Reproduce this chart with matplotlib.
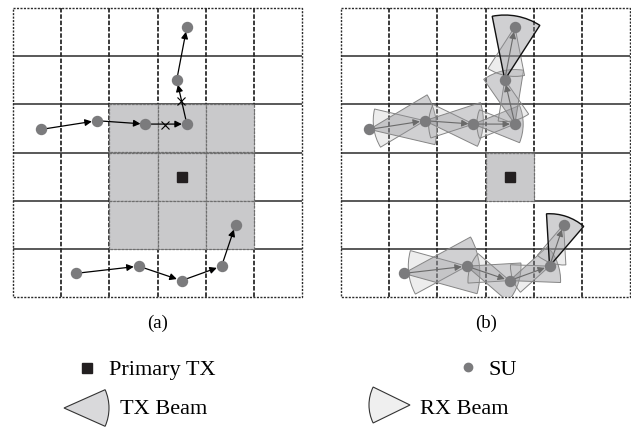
import numpy as np
import matplotlib
matplotlib.use("Agg")
import matplotlib.pyplot as plt
from matplotlib.patches import Wedge, Rectangle

plt.rcParams['font.family'] = ['Liberation Serif', 'DejaVu Serif']

# --- data (grid cell units, y measured downward from top edge) ---
n_cells = 6
primary_tx = (3.5, 3.5)
gray_cells_a = [(c, r) for c in (2, 3, 4) for r in (2, 3, 4)]
gray_cells_b = [(3, 3)]

path1_x = [0.59, 1.74, 2.75, 3.61, 3.40, 3.61]
path1_y = [2.52, 2.34, 2.41, 2.41, 1.49, 0.39]
path2_x = [1.30, 2.61, 3.50, 4.33, 4.62]
path2_y = [5.51, 5.36, 5.66, 5.36, 4.50]

cross_x = [3.16, 3.49]
cross_y = [2.43, 1.93]

panel_labels = ["(a)", "(b)"]
legend_labels = ["Primary TX", "SU", "TX Beam", "RX Beam"]

# --- styles ---
SU_COLOR = '#7b7b7d'
GRID_COLOR = '#2b2b2b'
SHADE = '#c9c9cb'
TX_FACE = (0.56, 0.56, 0.58, 0.42)
RX_FACE = (0.72, 0.72, 0.72, 0.25)
BEAM_EDGE = '#858585'
HALF = 22  # beam half width, degrees

W, H = 631, 428
fig = plt.figure(figsize=(W / 100, H / 100), dpi=100)


def make_panel(left_px, cells):
    ax = fig.add_axes([left_px / W, 1 - 297 / H, 289 / W, 289 / H])
    ax.set_xlim(0, n_cells)
    ax.set_ylim(n_cells, 0)
    ax.axis('off')
    inner = range(1, n_cells)
    ax.hlines(list(inner), 0, n_cells, colors=GRID_COLOR, lw=1.1, zorder=1)
    ax.vlines(list(inner), 0, n_cells, colors=GRID_COLOR, lw=1.3,
              linestyles=(0, (2.5, 1)), zorder=1)
    ax.add_patch(Rectangle((0, 0), n_cells, n_cells, fill=False, ec=GRID_COLOR,
                           lw=1.0, ls=(0, (1.5, 1)), zorder=1, clip_on=False))
    for c, r in cells:
        ax.add_patch(Rectangle((c, r), 1, 1, fc=SHADE, ec='#6e6e6e', lw=0.9,
                               ls=(0, (2, 1)), zorder=2))
    ax.plot(*primary_tx, marker='s', ms=7.2, color='#231f20', zorder=6)
    return ax


def arrows(ax, xs, ys, color, lw):
    for i in range(len(xs) - 1):
        ax.annotate('', xy=(xs[i + 1], ys[i + 1]), xytext=(xs[i], ys[i]),
                    arrowprops=dict(arrowstyle='-|>', color=color, lw=lw,
                                    mutation_scale=10, shrinkA=3, shrinkB=3.6),
                    zorder=5)


def beams(ax, xs, ys):
    for i in range(len(xs) - 1):
        ax_, ay = xs[i], ys[i]
        bx, by = xs[i + 1], ys[i + 1]
        d = np.hypot(bx - ax_, by - ay)
        th = np.degrees(np.arctan2(by - ay, bx - ax_))
        last = i == len(xs) - 2
        ax.add_patch(Wedge((bx, by), 0.92 * d, th + 180 - HALF, th + 180 + HALF,
                           fc=RX_FACE, ec=BEAM_EDGE, lw=0.7, zorder=3))
        ax.add_patch(Wedge((ax_, ay), 1.2 * d, th - HALF, th + HALF,
                           fc=TX_FACE, ec='#111111' if last else BEAM_EDGE,
                           lw=1.0 if last else 0.7, zorder=4 if last else 3))


# panel (a)
ax_a = make_panel(13, gray_cells_a)
for xs, ys in [(path1_x, path1_y), (path2_x, path2_y)]:
    arrows(ax_a, xs, ys, 'black', 0.9)
    ax_a.plot(xs, ys, 'o', ms=7.2, color=SU_COLOR, zorder=7)
ax_a.plot(cross_x, cross_y, 'x', ms=6, mew=0.8, color='black', zorder=6)

# panel (b)
ax_b = make_panel(341, gray_cells_b)
for xs, ys in [(path1_x, path1_y), (path2_x, path2_y)]:
    beams(ax_b, xs, ys)
    arrows(ax_b, xs, ys, '#6a6a6a', 0.8)
    ax_b.plot(xs, ys, 'o', ms=7.2, color=SU_COLOR, zorder=7)

# labels and legend (pixel overlay)
ov = fig.add_axes([0, 0, 1, 1])
ov.set_xlim(0, W)
ov.set_ylim(H, 0)
ov.axis('off')
ov.text(158, 323, panel_labels[0], ha='center', va='center', fontsize=13.5)
ov.text(486, 323, panel_labels[1], ha='center', va='center', fontsize=13.5)

ov.plot(86.7, 368, marker='s', ms=7.2, color='#231f20')
ov.text(109, 375, legend_labels[0], fontsize=16, va='baseline')
ov.plot(468.3, 367, marker='o', ms=6, color=SU_COLOR)
ov.text(488, 375, legend_labels[1], fontsize=16, va='baseline')
ov.add_patch(Wedge((64, 408), 45, -24, 24, fc='#d9d9db', ec='#333333', lw=0.8))
ov.text(120, 414, legend_labels[2], fontsize=16, va='baseline')
ov.add_patch(Wedge((410, 405), 41, 180 - 26, 180 + 26, fc='#efefef', ec='#333333', lw=0.8))
ov.text(420, 414, legend_labels[3], fontsize=16, va='baseline')

fig.savefig('out.png', dpi=100)
